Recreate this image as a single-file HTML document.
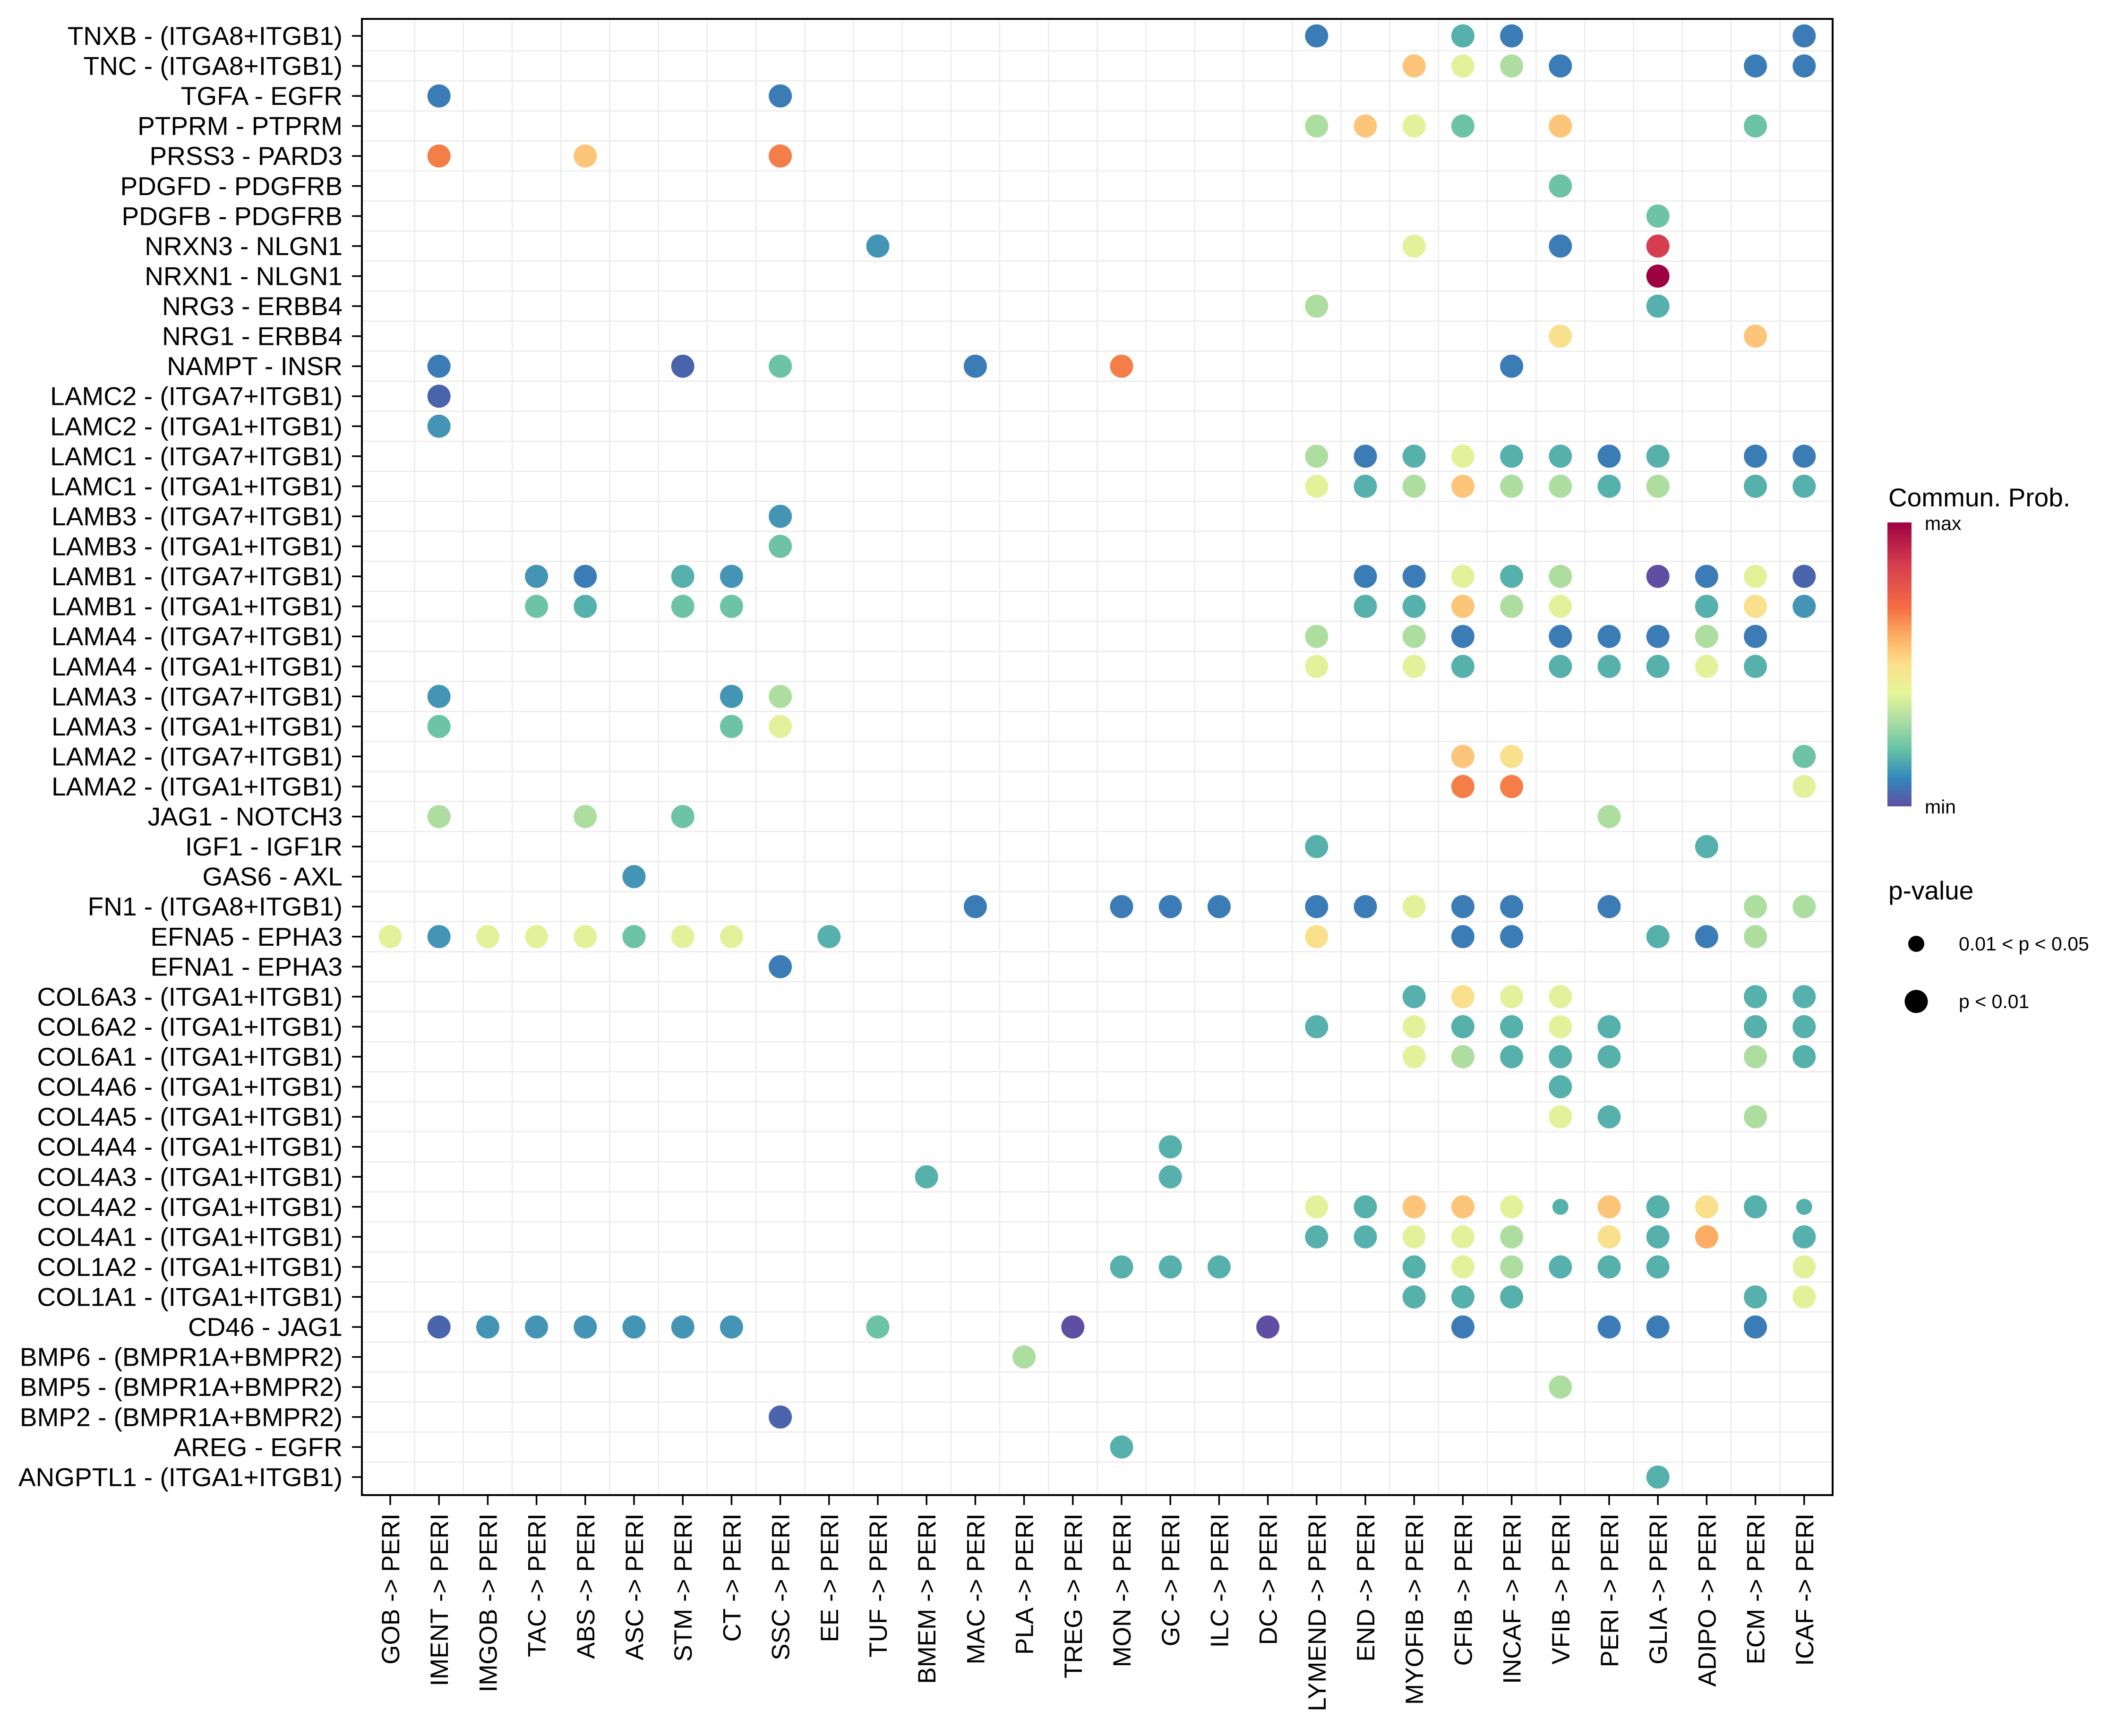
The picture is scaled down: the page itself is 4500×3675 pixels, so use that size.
<!DOCTYPE html>
<html><head><meta charset="utf-8"><style>
html,body{margin:0;padding:0;background:#fff}
svg{display:block}
text{font-family:"Liberation Sans",Arial,sans-serif;fill:#000}
.B{fill:#3b7cb7}.b{fill:#4394b5}.T{fill:#56b0ab}.G{fill:#6cc3a5}.g{fill:#addea0}.Y{fill:#e3f29a}.y{fill:#f9e08c}.O{fill:#fdc57a}.o{fill:#f47d48}.R{fill:#d53e4f}.M{fill:#9e0142}.P{fill:#5e4fa2}.Q{fill:#4a64ac}
</style></head><body>
<svg width="4500" height="3675" viewBox="0 0 4500 3675" xmlns="http://www.w3.org/2000/svg">
<defs>
<linearGradient id="cb" x1="0" y1="1" x2="0" y2="0">
<stop offset="0" stop-color="#5e4fa2"/><stop offset="0.1" stop-color="#3288bd"/><stop offset="0.2" stop-color="#66c2a5"/><stop offset="0.3" stop-color="#abdda4"/><stop offset="0.4" stop-color="#e6f598"/><stop offset="0.5" stop-color="#fee08b"/><stop offset="0.6" stop-color="#fdae61"/><stop offset="0.7" stop-color="#f46d43"/><stop offset="0.85" stop-color="#d53e4f"/><stop offset="1" stop-color="#9e0142"/>
</linearGradient>
</defs>
<rect x="0" y="0" width="4500" height="3675" fill="#fff"/>
<g stroke="#ebebeb" stroke-width="2.5">
<path d="M877.6 40V3165M980.8 40V3165M1084 40V3165M1187.2 40V3165M1290.4 40V3165M1393.6 40V3165M1496.8 40V3165M1600 40V3165M1703.2 40V3165M1806.4 40V3165M1909.6 40V3165M2012.8 40V3165M2116 40V3165M2219.2 40V3165M2322.4 40V3165M2425.6 40V3165M2528.8 40V3165M2632 40V3165M2735.2 40V3165M2838.4 40V3165M2941.6 40V3165M3044.8 40V3165M3148 40V3165M3251.2 40V3165M3354.4 40V3165M3457.6 40V3165M3560.8 40V3165M3664 40V3165M3767.2 40V3165"/>
<path d="M766 107.8H3879M766 171.3H3879M766 234.9H3879M766 298.5H3879M766 362H3879M766 425.6H3879M766 489.1H3879M766 552.7H3879M766 616.3H3879M766 679.8H3879M766 743.4H3879M766 806.9H3879M766 870.5H3879M766 934.1H3879M766 997.6H3879M766 1061.2H3879M766 1124.7H3879M766 1188.3H3879M766 1251.9H3879M766 1315.4H3879M766 1379H3879M766 1442.5H3879M766 1506.1H3879M766 1569.7H3879M766 1633.2H3879M766 1696.8H3879M766 1760.3H3879M766 1823.9H3879M766 1887.5H3879M766 1951H3879M766 2014.6H3879M766 2078.1H3879M766 2141.7H3879M766 2205.3H3879M766 2268.8H3879M766 2332.4H3879M766 2395.9H3879M766 2459.5H3879M766 2523.1H3879M766 2586.6H3879M766 2650.2H3879M766 2713.7H3879M766 2777.3H3879M766 2840.9H3879M766 2904.4H3879M766 2968H3879M766 3031.5H3879M766 3095.1H3879"/>
</g>
<g>
<g transform="translate(0,76)"><circle class="B" cx="2786.8" r="24.5"/><circle class="T" cx="3096.4" r="24.5"/><circle class="B" cx="3199.6" r="24.5"/><circle class="B" cx="3818.8" r="24.5"/></g>
<g transform="translate(0,139.6)"><circle class="O" cx="2993.2" r="24.5"/><circle class="Y" cx="3096.4" r="24.5"/><circle class="g" cx="3199.6" r="24.5"/><circle class="B" cx="3302.8" r="24.5"/><circle class="B" cx="3715.6" r="24.5"/><circle class="B" cx="3818.8" r="24.5"/></g>
<g transform="translate(0,203.1)"><circle class="B" cx="929.2" r="24.5"/><circle class="B" cx="1651.6" r="24.5"/></g>
<g transform="translate(0,266.7)"><circle class="g" cx="2786.8" r="24.5"/><circle class="O" cx="2890" r="24.5"/><circle class="Y" cx="2993.2" r="24.5"/><circle class="G" cx="3096.4" r="24.5"/><circle class="O" cx="3302.8" r="24.5"/><circle class="G" cx="3715.6" r="24.5"/></g>
<g transform="translate(0,330.2)"><circle class="o" cx="929.2" r="24.5"/><circle class="O" cx="1238.8" r="24.5"/><circle class="o" cx="1651.6" r="24.5"/></g>
<g transform="translate(0,393.8)"><circle class="G" cx="3302.8" r="24.5"/></g>
<g transform="translate(0,457.4)"><circle class="G" cx="3509.2" r="24.5"/></g>
<g transform="translate(0,520.9)"><circle class="b" cx="1858" r="24.5"/><circle class="Y" cx="2993.2" r="24.5"/><circle class="B" cx="3302.8" r="24.5"/><circle class="R" cx="3509.2" r="24.5"/></g>
<g transform="translate(0,584.5)"><circle class="M" cx="3509.2" r="24.5"/></g>
<g transform="translate(0,648)"><circle class="g" cx="2786.8" r="24.5"/><circle class="T" cx="3509.2" r="24.5"/></g>
<g transform="translate(0,711.6)"><circle class="y" cx="3302.8" r="24.5"/><circle class="O" cx="3715.6" r="24.5"/></g>
<g transform="translate(0,775.2)"><circle class="B" cx="929.2" r="24.5"/><circle class="Q" cx="1445.2" r="24.5"/><circle class="G" cx="1651.6" r="24.5"/><circle class="B" cx="2064.4" r="24.5"/><circle class="o" cx="2374" r="24.5"/><circle class="B" cx="3199.6" r="24.5"/></g>
<g transform="translate(0,838.7)"><circle class="Q" cx="929.2" r="24.5"/></g>
<g transform="translate(0,902.3)"><circle class="b" cx="929.2" r="24.5"/></g>
<g transform="translate(0,965.8)"><circle class="g" cx="2786.8" r="24.5"/><circle class="B" cx="2890" r="24.5"/><circle class="T" cx="2993.2" r="24.5"/><circle class="Y" cx="3096.4" r="24.5"/><circle class="T" cx="3199.6" r="24.5"/><circle class="T" cx="3302.8" r="24.5"/><circle class="B" cx="3406" r="24.5"/><circle class="T" cx="3509.2" r="24.5"/><circle class="B" cx="3715.6" r="24.5"/><circle class="B" cx="3818.8" r="24.5"/></g>
<g transform="translate(0,1029.4)"><circle class="Y" cx="2786.8" r="24.5"/><circle class="T" cx="2890" r="24.5"/><circle class="g" cx="2993.2" r="24.5"/><circle class="O" cx="3096.4" r="24.5"/><circle class="g" cx="3199.6" r="24.5"/><circle class="g" cx="3302.8" r="24.5"/><circle class="T" cx="3406" r="24.5"/><circle class="g" cx="3509.2" r="24.5"/><circle class="T" cx="3715.6" r="24.5"/><circle class="T" cx="3818.8" r="24.5"/></g>
<g transform="translate(0,1093)"><circle class="b" cx="1651.6" r="24.5"/></g>
<g transform="translate(0,1156.5)"><circle class="G" cx="1651.6" r="24.5"/></g>
<g transform="translate(0,1220.1)"><circle class="b" cx="1135.6" r="24.5"/><circle class="B" cx="1238.8" r="24.5"/><circle class="T" cx="1445.2" r="24.5"/><circle class="b" cx="1548.4" r="24.5"/><circle class="B" cx="2890" r="24.5"/><circle class="B" cx="2993.2" r="24.5"/><circle class="Y" cx="3096.4" r="24.5"/><circle class="T" cx="3199.6" r="24.5"/><circle class="g" cx="3302.8" r="24.5"/><circle class="P" cx="3509.2" r="24.5"/><circle class="B" cx="3612.4" r="24.5"/><circle class="Y" cx="3715.6" r="24.5"/><circle class="Q" cx="3818.8" r="24.5"/></g>
<g transform="translate(0,1283.6)"><circle class="G" cx="1135.6" r="24.5"/><circle class="T" cx="1238.8" r="24.5"/><circle class="G" cx="1445.2" r="24.5"/><circle class="G" cx="1548.4" r="24.5"/><circle class="T" cx="2890" r="24.5"/><circle class="T" cx="2993.2" r="24.5"/><circle class="O" cx="3096.4" r="24.5"/><circle class="g" cx="3199.6" r="24.5"/><circle class="Y" cx="3302.8" r="24.5"/><circle class="T" cx="3612.4" r="24.5"/><circle class="y" cx="3715.6" r="24.5"/><circle class="b" cx="3818.8" r="24.5"/></g>
<g transform="translate(0,1347.2)"><circle class="g" cx="2786.8" r="24.5"/><circle class="g" cx="2993.2" r="24.5"/><circle class="B" cx="3096.4" r="24.5"/><circle class="B" cx="3302.8" r="24.5"/><circle class="B" cx="3406" r="24.5"/><circle class="B" cx="3509.2" r="24.5"/><circle class="g" cx="3612.4" r="24.5"/><circle class="B" cx="3715.6" r="24.5"/></g>
<g transform="translate(0,1410.8)"><circle class="Y" cx="2786.8" r="24.5"/><circle class="Y" cx="2993.2" r="24.5"/><circle class="T" cx="3096.4" r="24.5"/><circle class="T" cx="3302.8" r="24.5"/><circle class="T" cx="3406" r="24.5"/><circle class="T" cx="3509.2" r="24.5"/><circle class="Y" cx="3612.4" r="24.5"/><circle class="T" cx="3715.6" r="24.5"/></g>
<g transform="translate(0,1474.3)"><circle class="b" cx="929.2" r="24.5"/><circle class="b" cx="1548.4" r="24.5"/><circle class="g" cx="1651.6" r="24.5"/></g>
<g transform="translate(0,1537.9)"><circle class="G" cx="929.2" r="24.5"/><circle class="G" cx="1548.4" r="24.5"/><circle class="Y" cx="1651.6" r="24.5"/></g>
<g transform="translate(0,1601.4)"><circle class="O" cx="3096.4" r="24.5"/><circle class="y" cx="3199.6" r="24.5"/><circle class="G" cx="3818.8" r="24.5"/></g>
<g transform="translate(0,1665)"><circle class="o" cx="3096.4" r="24.5"/><circle class="o" cx="3199.6" r="24.5"/><circle class="Y" cx="3818.8" r="24.5"/></g>
<g transform="translate(0,1728.6)"><circle class="g" cx="929.2" r="24.5"/><circle class="g" cx="1238.8" r="24.5"/><circle class="G" cx="1445.2" r="24.5"/><circle class="g" cx="3406" r="24.5"/></g>
<g transform="translate(0,1792.1)"><circle class="T" cx="2786.8" r="24.5"/><circle class="T" cx="3612.4" r="24.5"/></g>
<g transform="translate(0,1855.7)"><circle class="b" cx="1342" r="24.5"/></g>
<g transform="translate(0,1919.2)"><circle class="B" cx="2064.4" r="24.5"/><circle class="B" cx="2374" r="24.5"/><circle class="B" cx="2477.2" r="24.5"/><circle class="B" cx="2580.4" r="24.5"/><circle class="B" cx="2786.8" r="24.5"/><circle class="B" cx="2890" r="24.5"/><circle class="Y" cx="2993.2" r="24.5"/><circle class="B" cx="3096.4" r="24.5"/><circle class="B" cx="3199.6" r="24.5"/><circle class="B" cx="3406" r="24.5"/><circle class="g" cx="3715.6" r="24.5"/><circle class="g" cx="3818.8" r="24.5"/></g>
<g transform="translate(0,1982.8)"><circle class="Y" cx="826" r="24.5"/><circle class="b" cx="929.2" r="24.5"/><circle class="Y" cx="1032.4" r="24.5"/><circle class="Y" cx="1135.6" r="24.5"/><circle class="Y" cx="1238.8" r="24.5"/><circle class="G" cx="1342" r="24.5"/><circle class="Y" cx="1445.2" r="24.5"/><circle class="Y" cx="1548.4" r="24.5"/><circle class="T" cx="1754.8" r="24.5"/><circle class="y" cx="2786.8" r="24.5"/><circle class="B" cx="3096.4" r="24.5"/><circle class="B" cx="3199.6" r="24.5"/><circle class="T" cx="3509.2" r="24.5"/><circle class="B" cx="3612.4" r="24.5"/><circle class="g" cx="3715.6" r="24.5"/></g>
<g transform="translate(0,2046.4)"><circle class="B" cx="1651.6" r="24.5"/></g>
<g transform="translate(0,2109.9)"><circle class="T" cx="2993.2" r="24.5"/><circle class="y" cx="3096.4" r="24.5"/><circle class="Y" cx="3199.6" r="24.5"/><circle class="Y" cx="3302.8" r="24.5"/><circle class="T" cx="3715.6" r="24.5"/><circle class="T" cx="3818.8" r="24.5"/></g>
<g transform="translate(0,2173.5)"><circle class="T" cx="2786.8" r="24.5"/><circle class="Y" cx="2993.2" r="24.5"/><circle class="T" cx="3096.4" r="24.5"/><circle class="T" cx="3199.6" r="24.5"/><circle class="Y" cx="3302.8" r="24.5"/><circle class="T" cx="3406" r="24.5"/><circle class="T" cx="3715.6" r="24.5"/><circle class="T" cx="3818.8" r="24.5"/></g>
<g transform="translate(0,2237)"><circle class="Y" cx="2993.2" r="24.5"/><circle class="g" cx="3096.4" r="24.5"/><circle class="T" cx="3199.6" r="24.5"/><circle class="T" cx="3302.8" r="24.5"/><circle class="T" cx="3406" r="24.5"/><circle class="g" cx="3715.6" r="24.5"/><circle class="T" cx="3818.8" r="24.5"/></g>
<g transform="translate(0,2300.6)"><circle class="T" cx="3302.8" r="24.5"/></g>
<g transform="translate(0,2364.2)"><circle class="Y" cx="3302.8" r="24.5"/><circle class="T" cx="3406" r="24.5"/><circle class="g" cx="3715.6" r="24.5"/></g>
<g transform="translate(0,2427.7)"><circle class="T" cx="2477.2" r="24.5"/></g>
<g transform="translate(0,2491.3)"><circle class="T" cx="1961.2" r="24.5"/><circle class="T" cx="2477.2" r="24.5"/></g>
<g transform="translate(0,2554.8)"><circle class="Y" cx="2786.8" r="24.5"/><circle class="T" cx="2890" r="24.5"/><circle class="O" cx="2993.2" r="24.5"/><circle class="O" cx="3096.4" r="24.5"/><circle class="Y" cx="3199.6" r="24.5"/><circle class="T" cx="3302.8" r="17"/><circle class="O" cx="3406" r="24.5"/><circle class="T" cx="3509.2" r="24.5"/><circle class="y" cx="3612.4" r="24.5"/><circle class="T" cx="3715.6" r="24.5"/><circle class="T" cx="3818.8" r="17"/></g>
<g transform="translate(0,2618.4)"><circle class="T" cx="2786.8" r="24.5"/><circle class="T" cx="2890" r="24.5"/><circle class="Y" cx="2993.2" r="24.5"/><circle class="Y" cx="3096.4" r="24.5"/><circle class="g" cx="3199.6" r="24.5"/><circle class="y" cx="3406" r="24.5"/><circle class="T" cx="3509.2" r="24.5"/><circle style="fill:#fbad63" cx="3612.4" r="24.5"/><circle class="T" cx="3818.8" r="24.5"/></g>
<g transform="translate(0,2682)"><circle class="T" cx="2374" r="24.5"/><circle class="T" cx="2477.2" r="24.5"/><circle class="T" cx="2580.4" r="24.5"/><circle class="T" cx="2993.2" r="24.5"/><circle class="Y" cx="3096.4" r="24.5"/><circle class="g" cx="3199.6" r="24.5"/><circle class="T" cx="3302.8" r="24.5"/><circle class="T" cx="3406" r="24.5"/><circle class="T" cx="3509.2" r="24.5"/><circle class="Y" cx="3818.8" r="24.5"/></g>
<g transform="translate(0,2745.5)"><circle class="T" cx="2993.2" r="24.5"/><circle class="T" cx="3096.4" r="24.5"/><circle class="T" cx="3199.6" r="24.5"/><circle class="T" cx="3715.6" r="24.5"/><circle class="Y" cx="3818.8" r="24.5"/></g>
<g transform="translate(0,2809.1)"><circle class="Q" cx="929.2" r="24.5"/><circle class="b" cx="1032.4" r="24.5"/><circle class="b" cx="1135.6" r="24.5"/><circle class="b" cx="1238.8" r="24.5"/><circle class="b" cx="1342" r="24.5"/><circle class="b" cx="1445.2" r="24.5"/><circle class="b" cx="1548.4" r="24.5"/><circle class="G" cx="1858" r="24.5"/><circle class="P" cx="2270.8" r="24.5"/><circle class="P" cx="2683.6" r="24.5"/><circle class="B" cx="3096.4" r="24.5"/><circle class="B" cx="3406" r="24.5"/><circle class="B" cx="3509.2" r="24.5"/><circle class="B" cx="3715.6" r="24.5"/></g>
<g transform="translate(0,2872.6)"><circle class="g" cx="2167.6" r="24.5"/></g>
<g transform="translate(0,2936.2)"><circle class="g" cx="3302.8" r="24.5"/></g>
<g transform="translate(0,2999.8)"><circle class="Q" cx="1651.6" r="24.5"/></g>
<g transform="translate(0,3063.3)"><circle class="T" cx="2374" r="24.5"/></g>
<g transform="translate(0,3126.9)"><circle class="T" cx="3509.2" r="24.5"/></g>
</g>
<rect x="766" y="40" width="3113" height="3125" fill="none" stroke="#000" stroke-width="4"/>
<g stroke="#000" stroke-width="3.5">
<path d="M745 76H766M745 139.6H766M745 203.1H766M745 266.7H766M745 330.2H766M745 393.8H766M745 457.4H766M745 520.9H766M745 584.5H766M745 648H766M745 711.6H766M745 775.2H766M745 838.7H766M745 902.3H766M745 965.8H766M745 1029.4H766M745 1093H766M745 1156.5H766M745 1220.1H766M745 1283.6H766M745 1347.2H766M745 1410.8H766M745 1474.3H766M745 1537.9H766M745 1601.4H766M745 1665H766M745 1728.6H766M745 1792.1H766M745 1855.7H766M745 1919.2H766M745 1982.8H766M745 2046.4H766M745 2109.9H766M745 2173.5H766M745 2237H766M745 2300.6H766M745 2364.2H766M745 2427.7H766M745 2491.3H766M745 2554.8H766M745 2618.4H766M745 2682H766M745 2745.5H766M745 2809.1H766M745 2872.6H766M745 2936.2H766M745 2999.8H766M745 3063.3H766M745 3126.9H766"/>
<path d="M826 3165V3186M929.2 3165V3186M1032.4 3165V3186M1135.6 3165V3186M1238.8 3165V3186M1342 3165V3186M1445.2 3165V3186M1548.4 3165V3186M1651.6 3165V3186M1754.8 3165V3186M1858 3165V3186M1961.2 3165V3186M2064.4 3165V3186M2167.6 3165V3186M2270.8 3165V3186M2374 3165V3186M2477.2 3165V3186M2580.4 3165V3186M2683.6 3165V3186M2786.8 3165V3186M2890 3165V3186M2993.2 3165V3186M3096.4 3165V3186M3199.6 3165V3186M3302.8 3165V3186M3406 3165V3186M3509.2 3165V3186M3612.4 3165V3186M3715.6 3165V3186M3818.8 3165V3186"/>
</g>
<g font-size="55" text-anchor="end">
<text x="725" y="95">TNXB - (ITGA8+ITGB1)</text>
<text x="725" y="158.6">TNC - (ITGA8+ITGB1)</text>
<text x="725" y="222.1">TGFA - EGFR</text>
<text x="725" y="285.7">PTPRM - PTPRM</text>
<text x="725" y="349.2">PRSS3 - PARD3</text>
<text x="725" y="412.8">PDGFD - PDGFRB</text>
<text x="725" y="476.4">PDGFB - PDGFRB</text>
<text x="725" y="539.9">NRXN3 - NLGN1</text>
<text x="725" y="603.5">NRXN1 - NLGN1</text>
<text x="725" y="667">NRG3 - ERBB4</text>
<text x="725" y="730.6">NRG1 - ERBB4</text>
<text x="725" y="794.2">NAMPT - INSR</text>
<text x="725" y="857.7">LAMC2 - (ITGA7+ITGB1)</text>
<text x="725" y="921.3">LAMC2 - (ITGA1+ITGB1)</text>
<text x="725" y="984.8">LAMC1 - (ITGA7+ITGB1)</text>
<text x="725" y="1048.4">LAMC1 - (ITGA1+ITGB1)</text>
<text x="725" y="1112">LAMB3 - (ITGA7+ITGB1)</text>
<text x="725" y="1175.5">LAMB3 - (ITGA1+ITGB1)</text>
<text x="725" y="1239.1">LAMB1 - (ITGA7+ITGB1)</text>
<text x="725" y="1302.6">LAMB1 - (ITGA1+ITGB1)</text>
<text x="725" y="1366.2">LAMA4 - (ITGA7+ITGB1)</text>
<text x="725" y="1429.8">LAMA4 - (ITGA1+ITGB1)</text>
<text x="725" y="1493.3">LAMA3 - (ITGA7+ITGB1)</text>
<text x="725" y="1556.9">LAMA3 - (ITGA1+ITGB1)</text>
<text x="725" y="1620.4">LAMA2 - (ITGA7+ITGB1)</text>
<text x="725" y="1684">LAMA2 - (ITGA1+ITGB1)</text>
<text x="725" y="1747.6">JAG1 - NOTCH3</text>
<text x="725" y="1811.1">IGF1 - IGF1R</text>
<text x="725" y="1874.7">GAS6 - AXL</text>
<text x="725" y="1938.2">FN1 - (ITGA8+ITGB1)</text>
<text x="725" y="2001.8">EFNA5 - EPHA3</text>
<text x="725" y="2065.4">EFNA1 - EPHA3</text>
<text x="725" y="2128.9">COL6A3 - (ITGA1+ITGB1)</text>
<text x="725" y="2192.5">COL6A2 - (ITGA1+ITGB1)</text>
<text x="725" y="2256">COL6A1 - (ITGA1+ITGB1)</text>
<text x="725" y="2319.6">COL4A6 - (ITGA1+ITGB1)</text>
<text x="725" y="2383.2">COL4A5 - (ITGA1+ITGB1)</text>
<text x="725" y="2446.7">COL4A4 - (ITGA1+ITGB1)</text>
<text x="725" y="2510.3">COL4A3 - (ITGA1+ITGB1)</text>
<text x="725" y="2573.8">COL4A2 - (ITGA1+ITGB1)</text>
<text x="725" y="2637.4">COL4A1 - (ITGA1+ITGB1)</text>
<text x="725" y="2701">COL1A2 - (ITGA1+ITGB1)</text>
<text x="725" y="2764.5">COL1A1 - (ITGA1+ITGB1)</text>
<text x="725" y="2828.1">CD46 - JAG1</text>
<text x="725" y="2891.6">BMP6 - (BMPR1A+BMPR2)</text>
<text x="725" y="2955.2">BMP5 - (BMPR1A+BMPR2)</text>
<text x="725" y="3018.8">BMP2 - (BMPR1A+BMPR2)</text>
<text x="725" y="3082.3">AREG - EGFR</text>
<text x="725" y="3145.9">ANGPTL1 - (ITGA1+ITGB1)</text>
</g>
<g font-size="53" text-anchor="end">
<text transform="translate(845,3204) rotate(-90)">GOB -&gt; PERI</text>
<text transform="translate(948.2,3204) rotate(-90)">IMENT -&gt; PERI</text>
<text transform="translate(1051.4,3204) rotate(-90)">IMGOB -&gt; PERI</text>
<text transform="translate(1154.6,3204) rotate(-90)">TAC -&gt; PERI</text>
<text transform="translate(1257.8,3204) rotate(-90)">ABS -&gt; PERI</text>
<text transform="translate(1361,3204) rotate(-90)">ASC -&gt; PERI</text>
<text transform="translate(1464.2,3204) rotate(-90)">STM -&gt; PERI</text>
<text transform="translate(1567.4,3204) rotate(-90)">CT -&gt; PERI</text>
<text transform="translate(1670.6,3204) rotate(-90)">SSC -&gt; PERI</text>
<text transform="translate(1773.8,3204) rotate(-90)">EE -&gt; PERI</text>
<text transform="translate(1877,3204) rotate(-90)">TUF -&gt; PERI</text>
<text transform="translate(1980.2,3204) rotate(-90)">BMEM -&gt; PERI</text>
<text transform="translate(2083.4,3204) rotate(-90)">MAC -&gt; PERI</text>
<text transform="translate(2186.6,3204) rotate(-90)">PLA -&gt; PERI</text>
<text transform="translate(2289.8,3204) rotate(-90)">TREG -&gt; PERI</text>
<text transform="translate(2393,3204) rotate(-90)">MON -&gt; PERI</text>
<text transform="translate(2496.2,3204) rotate(-90)">GC -&gt; PERI</text>
<text transform="translate(2599.4,3204) rotate(-90)">ILC -&gt; PERI</text>
<text transform="translate(2702.6,3204) rotate(-90)">DC -&gt; PERI</text>
<text transform="translate(2805.8,3204) rotate(-90)">LYMEND -&gt; PERI</text>
<text transform="translate(2909,3204) rotate(-90)">END -&gt; PERI</text>
<text transform="translate(3012.2,3204) rotate(-90)">MYOFIB -&gt; PERI</text>
<text transform="translate(3115.4,3204) rotate(-90)">CFIB -&gt; PERI</text>
<text transform="translate(3218.6,3204) rotate(-90)">INCAF -&gt; PERI</text>
<text transform="translate(3321.8,3204) rotate(-90)">VFIB -&gt; PERI</text>
<text transform="translate(3425,3204) rotate(-90)">PERI -&gt; PERI</text>
<text transform="translate(3528.2,3204) rotate(-90)">GLIA -&gt; PERI</text>
<text transform="translate(3631.4,3204) rotate(-90)">ADIPO -&gt; PERI</text>
<text transform="translate(3734.6,3204) rotate(-90)">ECM -&gt; PERI</text>
<text transform="translate(3837.8,3204) rotate(-90)">ICAF -&gt; PERI</text>
</g>
<text x="3997" y="1072" font-size="55">Commun. Prob.</text>
<rect x="3995" y="1106" width="51" height="601" fill="url(#cb)"/>
<text x="4074" y="1122" font-size="41">max</text>
<text x="4074" y="1722" font-size="41">min</text>
<text x="3997" y="1904" font-size="55">p-value</text>
<circle cx="4056" cy="1998" r="17" fill="#000"/>
<circle cx="4056" cy="2120" r="24.5" fill="#000"/>
<text x="4146" y="2012" font-size="41">0.01 &lt; p &lt; 0.05</text>
<text x="4146" y="2134" font-size="41">p &lt; 0.01</text>
</svg>
</body></html>
